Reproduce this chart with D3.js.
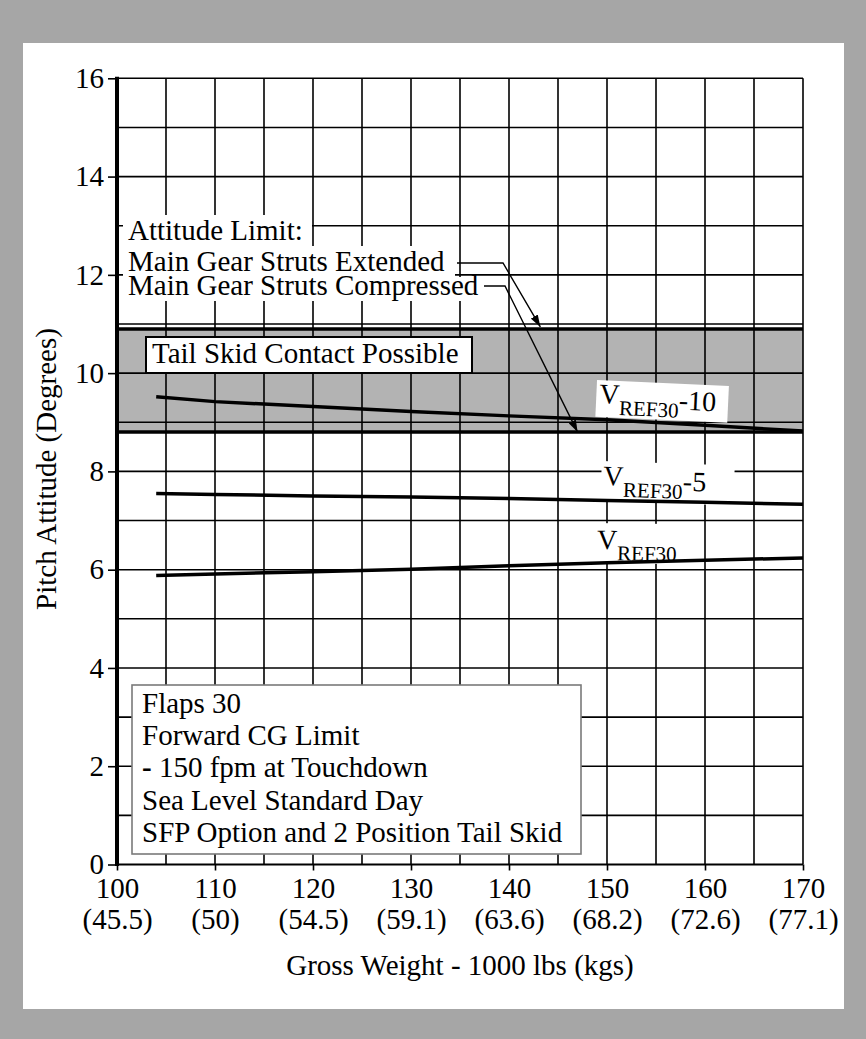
<!DOCTYPE html>
<html>
<head>
<meta charset="utf-8">
<script src="https://cdn.jsdelivr.net/npm/d3@7"></script>
<style>
  body { margin: 0; background: #a6a6a6; }
  svg { display: block; font-family: "Liberation Serif", "Times New Roman", serif; }
</style>
</head>
<body>
<div id="chart"></div>
<script>
// gross weight (1000 lbs) where the curves were read
const weights = [104, 110, 120, 130, 140, 150, 160, 170];
const vref30Minus10 = [9.52, 9.42, 9.32, 9.22, 9.13, 9.05, 8.94, 8.82];
const vref30Minus5 = [7.55, 7.53, 7.50, 7.48, 7.45, 7.41, 7.37, 7.33];
const vref30 = [5.88, 5.91, 5.96, 6.01, 6.08, 6.14, 6.19, 6.24];

// tail skid contact band (degrees)
const bandLow = 8.8;
const bandHigh = 10.9;

const lbsTicks = [100, 110, 120, 130, 140, 150, 160, 170];
const kgsTicks = ["(45.5)", "(50)", "(54.5)", "(59.1)", "(63.6)", "(68.2)", "(72.6)", "(77.1)"];
const pitchTicks = [0, 2, 4, 6, 8, 10, 12, 14, 16];

const notes = [
    "Flaps 30",
    "Forward CG Limit",
    "- 150 fpm at Touchdown",
    "Sea Level Standard Day",
    "SFP Option and 2 Position Tail Skid"
];

const width = 866;
const height = 1039;
const FONT = 29;

const svg = d3.select("#chart").append("svg")
    .attr("width", width)
    .attr("height", height);

// grey frame + white sheet
svg.append("rect").attr("width", width).attr("height", height).attr("fill", "#a6a6a6");
svg.append("rect").attr("x", 23).attr("y", 43).attr("width", 821).attr("height", 966).attr("fill", "#fff");

const x = d3.scaleLinear().domain([100, 170]).range([117, 803]);
const y = d3.scaleLinear().domain([0, 16]).range([864.5, 78.3]);

// shaded band
svg.append("rect")
    .attr("x", x(100)).attr("y", y(bandHigh))
    .attr("width", x(170) - x(100)).attr("height", y(bandLow) - y(bandHigh))
    .attr("fill", "#b3b3b3");

// grid
const grid = svg.append("g").attr("stroke", "#000").attr("stroke-width", 1.6);
grid.selectAll("line.h")
    .data(d3.range(1, 17))
    .enter().append("line")
    .attr("class", "h")
    .attr("x1", x(100)).attr("x2", x(170))
    .attr("y1", d => y(d)).attr("y2", d => y(d));
grid.selectAll("line.v")
    .data(d3.range(105, 171, 5))
    .enter().append("line")
    .attr("class", "v")
    .attr("x1", d => x(d)).attr("x2", d => x(d))
    .attr("y1", y(16)).attr("y2", y(0));

// band edges
[bandHigh, bandLow].forEach(v => {
    svg.append("line")
        .attr("x1", x(100)).attr("x2", x(170))
        .attr("y1", y(v)).attr("y2", y(v))
        .attr("stroke", "#000").attr("stroke-width", 3.5);
});

// axes
const yAxis = svg.append("g")
    .attr("transform", `translate(${x(100)},0)`)
    .call(d3.axisLeft(y).tickValues(pitchTicks).tickSize(9).tickPadding(4));
yAxis.select(".domain").remove();
yAxis.attr("font-family", null).attr("font-size", FONT);
yAxis.selectAll("line").attr("stroke-width", 1.6);
yAxis.selectAll("text").attr("fill", "#000");

const xAxis = svg.append("g")
    .attr("transform", `translate(0,${y(0)})`)
    .call(d3.axisBottom(x).tickValues(lbsTicks).tickSize(6).tickFormat(""));
xAxis.select(".domain").remove();
xAxis.attr("font-family", null).attr("font-size", FONT);
xAxis.selectAll("line").attr("stroke-width", 1.6);
xAxis.selectAll(".tick").append("text")
    .attr("y", 33.5).attr("fill", "#000").attr("text-anchor", "middle")
    .text(d => d);
xAxis.selectAll(".tick").append("text")
    .attr("y", 64.5).attr("fill", "#000").attr("text-anchor", "middle")
    .text((d, i) => kgsTicks[i]);

svg.append("line")
    .attr("x1", x(100)).attr("x2", x(170))
    .attr("y1", y(0)).attr("y2", y(0))
    .attr("stroke", "#000").attr("stroke-width", 2.2);
svg.append("line")
    .attr("x1", x(100)).attr("x2", x(100))
    .attr("y1", y(16) - 1.5).attr("y2", y(0) + 1.5)
    .attr("stroke", "#000").attr("stroke-width", 4);

svg.append("text")
    .attr("x", (x(100) + x(170)) / 2).attr("y", 975)
    .attr("text-anchor", "middle").attr("font-size", FONT)
    .text("Gross Weight - 1000 lbs (kgs)");
svg.append("text")
    .attr("transform", "translate(56,469) rotate(-90)")
    .attr("text-anchor", "middle").attr("font-size", FONT)
    .text("Pitch Attitude (Degrees)");

// attitude limit callout
const limitLines = [
    { text: "Attitude Limit:", base: 240, right: 312 },
    { text: "Main Gear Struts Extended", base: 271, right: 455 },
    { text: "Main Gear Struts Compressed", base: 295, right: 483 }
];
svg.selectAll("rect.knock")
    .data(limitLines)
    .enter().append("rect")
    .attr("class", "knock")
    .attr("x", 123)
    .attr("y", (d, i) => i === 0 ? 215 : limitLines[i - 1].base + 6)
    .attr("width", d => d.right - 123)
    .attr("height", (d, i) => d.base + 6 - (i === 0 ? 215 : limitLines[i - 1].base + 6))
    .attr("fill", "#fff");
svg.selectAll("text.limit")
    .data(limitLines)
    .enter().append("text")
    .attr("class", "limit")
    .attr("x", 128).attr("y", d => d.base)
    .attr("font-size", FONT)
    .text(d => d.text);

svg.append("defs").append("marker")
    .attr("id", "arrow")
    .attr("viewBox", "0 0 12 8")
    .attr("refX", 12).attr("refY", 4)
    .attr("markerWidth", 12).attr("markerHeight", 8)
    .attr("markerUnits", "userSpaceOnUse")
    .attr("orient", "auto")
    .append("path").attr("d", "M0,0L12,4L0,8Z").attr("fill", "#000");

const leader = d3.line();
svg.append("path")
    .attr("d", leader([[457, 263], [503, 263], [x(143.2), y(bandHigh) - 2]]))
    .attr("fill", "none").attr("stroke", "#000").attr("stroke-width", 1.4)
    .attr("marker-end", "url(#arrow)");
svg.append("path")
    .attr("d", leader([[484, 286], [505, 286], [x(147), y(bandLow)]]))
    .attr("fill", "none").attr("stroke", "#000").attr("stroke-width", 1.4)
    .attr("marker-end", "url(#arrow)");

// tail skid box
svg.append("rect")
    .attr("x", 146).attr("y", 337).attr("width", 326).attr("height", 36)
    .attr("fill", "#fff").attr("stroke", "#000").attr("stroke-width", 2);
svg.append("text")
    .attr("x", 152).attr("y", 363).attr("font-size", FONT)
    .text("Tail Skid Contact Possible");

// conditions box
svg.append("rect")
    .attr("x", 132).attr("y", 685).attr("width", 449).attr("height", 169)
    .attr("fill", "#fff").attr("stroke", "#7a7a7a").attr("stroke-width", 1.6);
svg.selectAll("text.note")
    .data(notes)
    .enter().append("text")
    .attr("class", "note")
    .attr("x", 142).attr("y", (d, i) => 713 + i * 32.2)
    .attr("font-size", FONT)
    .each(function (d) {
        const t = d3.select(this);
        if (d.startsWith("-")) {
            t.append("tspan").attr("font-weight", "bold").text("-");
            t.append("tspan").text(d.slice(1));
        } else {
            t.text(d);
        }
    });

// curve labels with knock-out boxes
const curveLabels = [
    { suffix: "-10", tx: 599, ty: 403, rot: 2.6, box: [-3, -23, 132, 37] },
    { suffix: "-5", tx: 603, ty: 485, rot: 2, box: [-2, -24, 133, 40] },
    { suffix: "", tx: 597, ty: 549, rot: 0.8, box: [-4, -26, 95, 40] }
];
curveLabels.forEach(l => {
    const g = svg.append("g").attr("transform", `translate(${l.tx},${l.ty}) rotate(${l.rot})`);
    g.append("rect")
        .attr("x", l.box[0]).attr("y", l.box[1]).attr("width", l.box[2]).attr("height", l.box[3])
        .attr("fill", "#fff");
    const t = g.append("text").attr("font-size", 28);
    t.append("tspan").text("V");
    t.append("tspan").attr("font-size", 21).attr("dy", 11).text("REF30");
    if (l.suffix) t.append("tspan").attr("dy", -8).text(l.suffix);
});

// curves
const line = d3.line()
    .x((d, i) => x(weights[i]))
    .y(d => y(d));
[vref30Minus10, vref30Minus5, vref30].forEach(series => {
    svg.append("path")
        .attr("d", line(series))
        .attr("fill", "none")
        .attr("stroke", "#000")
        .attr("stroke-width", 3.5);
});
</script>
</body>
</html>
